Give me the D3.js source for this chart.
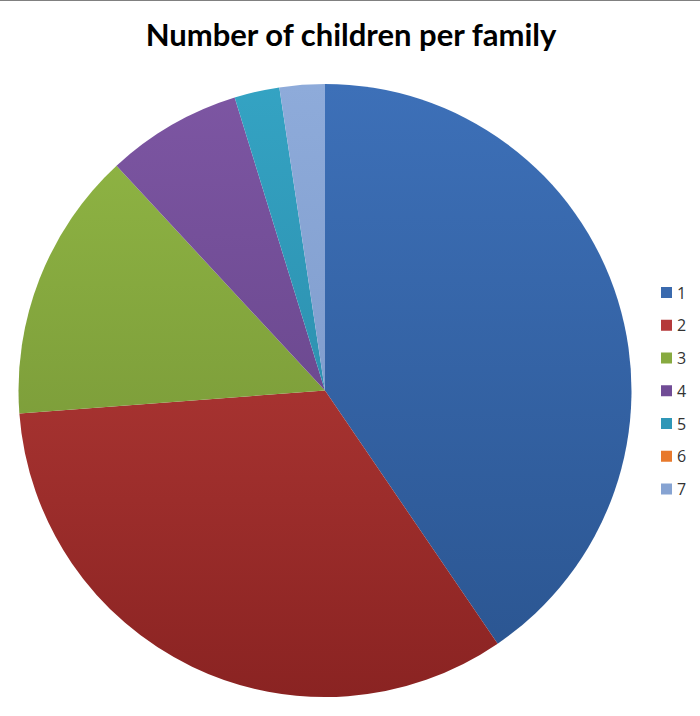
<!DOCTYPE html>
<html><head><meta charset="utf-8">
<script src="https://cdn.jsdelivr.net/npm/d3@7/dist/d3.min.js"></script>
<style>html,body{margin:0;padding:0;background:#fff;}svg{display:block;}</style>
</head><body>
<svg id="chart" width="700" height="716"></svg>
<script>
const categories = ["1","2","3","4","5","6","7"];
const values = [17,14,6,3,1,0,1];
const topColors = ["#3D70B8","#C2423E","#92B845","#7D56A3","#34A3C3","#F28232","#8EABDA"];
const bottomColors = ["#2A548F","#8A2322","#6D8A32","#5C3D7E","#26809E","#C9641E","#7491C2"];
const baseColors = ["#3A6AAE","#B5393A","#87AA40","#714C96","#2F97B7","#E8792C","#86A3D2"];

const svg = d3.select("#chart");
const W = 700, H = 716;
const cx = 325, cy = 390.5, r = 306.5;

svg.append("rect").attr("x",0).attr("y",0).attr("width",W).attr("height",H).attr("fill","#fff");
svg.append("line").attr("x1",0).attr("x2",W).attr("y1",0.5).attr("y2",0.5)
  .attr("stroke","#808080").attr("stroke-width",1);

svg.append("text").attr("x",351).attr("y",46).attr("text-anchor","middle")
  .attr("font-family","Lato, 'Open Sans', sans-serif").attr("font-weight","bold")
  .attr("font-size",31).attr("fill","#000").text("Number of children per family");

const defs = svg.append("defs");
categories.forEach((c,i)=>{
  const g = defs.append("linearGradient").attr("id","g"+i)
    .attr("gradientUnits","userSpaceOnUse")
    .attr("x1",0).attr("y1",-r).attr("x2",0).attr("y2",r);
  g.append("stop").attr("offset","0").attr("stop-color",topColors[i]);
  g.append("stop").attr("offset","1").attr("stop-color",bottomColors[i]);
});

const pie = d3.pie().sort(null).value(d=>d)(values);
const arc = d3.arc().innerRadius(0).outerRadius(r);
const gp = svg.append("g").attr("transform",`translate(${cx},${cy})`);
gp.selectAll("path").data(pie).join("path")
  .attr("d",arc)
  .attr("fill",(d,i)=>`url(#g${i})`);

const lg = svg.append("g");
const ly = d3.scalePoint().domain(categories).range([292.5,489]);
categories.forEach((c,i)=>{
  lg.append("rect").attr("x",661).attr("y",ly(c)-5.5).attr("width",11).attr("height",11)
    .attr("fill",baseColors[i]);
  lg.append("text").attr("x",677).attr("y",ly(c)+6)
    .attr("font-family","'Open Sans', sans-serif").attr("font-size",16).attr("fill","#333").text(c);
});
</script>
</body></html>
